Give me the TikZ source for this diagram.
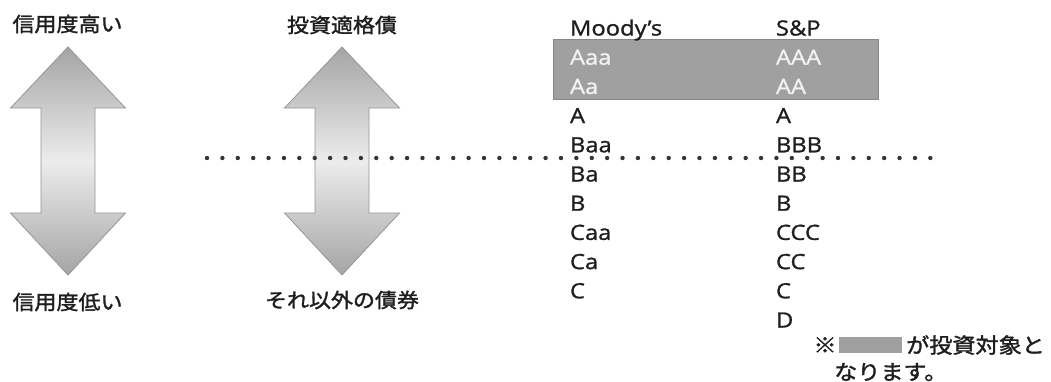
\documentclass[tikz,border=0pt]{standalone}
\usepackage{fontspec}
\setmainfont{Open Sans}[FakeStretch=1.13, FakeBold=1.1]
\newfontfamily\jpfont{Noto Sans CJK JP}[FakeStretch=1.1, FakeBold=1.6]
\usetikzlibrary{positioning}
\definecolor{inkgray}{RGB}{30,30,30}
\definecolor{boxgray}{RGB}{160,160,160}
\definecolor{boxedge}{RGB}{135,135,135}
\definecolor{arrowedge}{RGB}{150,150,150}
\definecolor{arrowdark}{RGB}{165,165,165}
\definecolor{arrowlight}{RGB}{236,236,236}
\definecolor{paletext}{RGB}{242,242,242}

\begin{document}
\begin{tikzpicture}[x=1pt,y=-1pt,font=\fontsize{21}{25}\selectfont,text=inkgray]
    \tikzstyle{rating}=[text width=100pt, align=left, inner sep=0pt, text height=15pt, text depth=0pt, node distance=29.2pt, on grid]
    \tikzstyle{label}=[inner sep=0pt, font=\jpfont\fontsize{20}{24}\selectfont]
    \tikzstyle{note}=[inner sep=0pt, font=\jpfont\fontsize{21}{25}\selectfont]
    \tikzstyle{arrowbody}=[draw=arrowedge, line width=0.8pt, top color=arrowdark, bottom color=arrowdark, middle color=arrowlight]
    \fill[white] (0,0) rectangle (1051,380);

    % big double arrows
    \foreach \cx in {68,342} {
        \draw[arrowbody] (\cx,47) -- (\cx+57.5,108) -- (\cx+27,108) -- (\cx+27,213) -- (\cx+57.5,213) -- (\cx,275)
            -- (\cx-57.5,213) -- (\cx-27,213) -- (\cx-27,108) -- (\cx-57.5,108) -- cycle;
    }
    \node[label] (high) at (67.5,24) {信用度高い};
    \node[label] (low) at (67.5,302) {信用度低い};
    \node[label] (grade) at (342,25) {投資適格債};
    \node[label] (other) at (342,300) {それ以外の債券};

    % investment grade band
    \draw[fill=boxgray, draw=boxedge, line width=0.6pt] (553,39) rectangle (878,99);

    % rating columns
    \node[rating] (moodys) at (620,28) {Moody's};
    \node[rating,below of=moodys,text=paletext] (m1) {Aaa};
    \node[rating,below of=m1,text=paletext] (m2) {Aa};
    \node[rating,below of=m2] (m3) {A};
    \node[rating,below of=m3] (m4) {Baa};
    \node[rating,below of=m4] (m5) {Ba};
    \node[rating,below of=m5] (m6) {B};
    \node[rating,below of=m6] (m7) {Caa};
    \node[rating,below of=m7] (m8) {Ca};
    \node[rating,below of=m8] (m9) {C};

    \node[rating] (sp) at (826,28) {S\&P};
    \node[rating,below of=sp,text=paletext] (s1) {AAA};
    \node[rating,below of=s1,text=paletext] (s2) {AA};
    \node[rating,below of=s2] (s3) {A};
    \node[rating,below of=s3] (s4) {BBB};
    \node[rating,below of=s4] (s5) {BB};
    \node[rating,below of=s5] (s6) {B};
    \node[rating,below of=s6] (s7) {CCC};
    \node[rating,below of=s7] (s8) {CC};
    \node[rating,below of=s8] (s9) {C};
    \node[rating,below of=s9] (s10) {D};

    % dotted border between grades
    \coordinate (dotL) at (207,158);
    \coordinate (dotR) at (930.5,158);
    \draw[inkgray!90, line width=4.4pt, line cap=round, dash pattern=on 0pt off 15.39pt] (dotL) -- (dotR);

    % note
    \node[note] (mark) at (825,345) {※};
    \node[fill=boxgray, inner sep=0pt, minimum width=63pt, minimum height=16pt] (keybox) at (870.5,345) {};
    \node[note, anchor=west] (target) at (906,345) {が投資対象と};
    \node[note, anchor=west] (ends) at (834,372) {なります。};
\end{tikzpicture}
\end{document}
